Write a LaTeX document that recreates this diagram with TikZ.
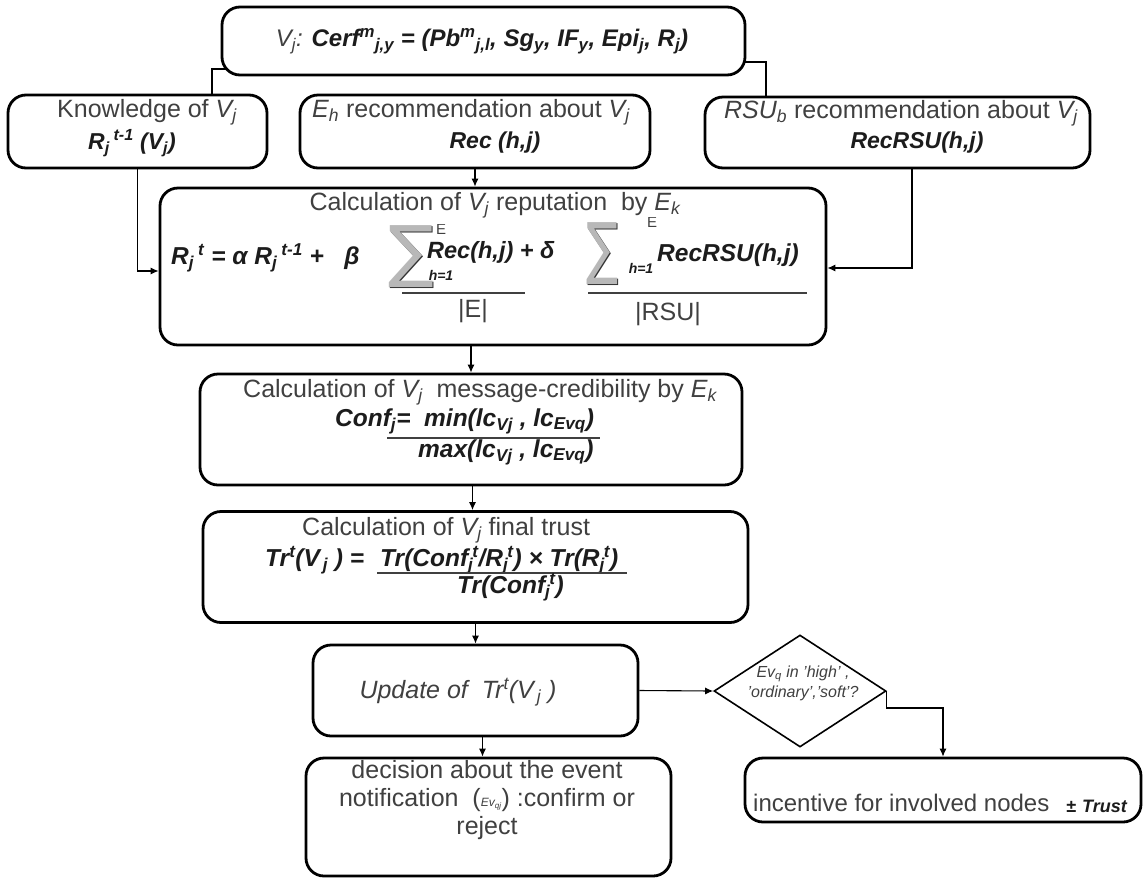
\documentclass[tikz,border=0pt]{standalone}
\usepackage{fontspec}
\setmainfont{Liberation Sans}
\newfontfamily\sigmafont{DejaVu Sans}
\usetikzlibrary{shapes.geometric,arrows.meta,backgrounds}
\definecolor{ink}{RGB}{64,64,64}
\definecolor{fink}{RGB}{28,28,28}
\newcommand\dn[1]{\textsubscript{#1}}
\newcommand\up[1]{\textsuperscript{#1}}
\begin{document}
\begin{tikzpicture}[x=1pt,y=-1pt,
  box/.style={draw, fill=white, line width=2.8pt, rounded corners=18pt, inner sep=0pt},
  link/.style={line width=1.1pt},
  arr/.style={link,-{Latex[length=8pt,width=7pt]}},
  txt/.style={text=ink, font=\fontsize{25}{28}\selectfont, inner sep=0pt},
  fml/.style={text=fink, font=\fontsize{24.5}{28}\selectfont\bfseries\itshape, inner sep=0pt},
  tiny/.style={text=fink, font=\fontsize{14}{16}\selectfont\bfseries\itshape, inner sep=0pt},
  lim/.style={text=ink, font=\fontsize{15}{16}\selectfont, inner sep=0pt},
  sigshade/.style={text=black!80, font=\sigmafont\fontsize{68}{68}\selectfont, inner sep=0pt},
  sig/.style={text=black!28, font=\sigmafont\fontsize{68}{68}\selectfont, inner sep=0pt},
  fracbar/.style={line width=1.1pt, draw=ink},
]
\useasboundingbox (0,0) rectangle (1147,879);

% ---- boxes ----
\node[box, minimum width=523pt, minimum height=68pt]  (top)  at (483.5,41)  {};
\node[box, minimum width=259pt, minimum height=73pt]  (know) at (137.5,131.5) {};
\node[box, minimum width=350pt, minimum height=73pt]  (rech) at (475,131.5) {};
\node[box, minimum width=385pt, minimum height=71pt]  (rsu)  at (897.5,132.5) {};
\node[box, minimum width=666pt, minimum height=157pt] (rep)  at (493,266.5) {};
\node[box, minimum width=542pt, minimum height=111pt] (cred) at (471,429.5) {};
\node[box, minimum width=545pt, minimum height=111pt] (fin)  at (475.5,567) {};
\node[box, minimum width=325pt, minimum height=91pt]  (upd)  at (475.5,690.5) {};
\node[box, minimum width=365pt, minimum height=118pt] (dec)  at (488.5,817) {};
\node[box, minimum width=396pt, minimum height=64pt]  (inc)  at (943,790) {};
\node[draw, fill=white, diamond, line width=1.6pt, minimum width=172pt, minimum height=112pt, inner sep=0pt] (dia) at (800,691) {};

% ---- connectors ----
\begin{scope}[on background layer]
\draw[link] ([yshift=-28pt,xshift=8pt]top.west) -| ([xshift=74.5pt]know.north);
\draw[link] ([yshift=-21pt,xshift=-4pt]top.east) -| ([xshift=-131.5pt]rsu.north);
\end{scope}
\draw[arr] (know.south) |- ([yshift=-4.5pt]rep.west);
\draw[arr] (rech.south) -- (rech.south |- rep.north);
\draw[arr] ([xshift=14.5pt]rsu.south) |- ([yshift=-1.5pt]rep.east);
\draw[arr] (rep.south -| cred.north) -- (cred.north);
\draw[arr] ([xshift=1.5pt]cred.south) -- ([xshift=1.5pt]cred.south |- fin.north);
\draw[arr] (fin.south) -- (fin.south |- upd.north);
\draw[arr] ([xshift=7pt]upd.south) -- ([xshift=7pt]upd.south |- dec.north);
\draw[arr] (upd.east) -- (dia.west);
\draw[arr] (dia.east) -- ([yshift=-17pt]dia.east) -| (inc.north);

% ---- texts ----
\node[fml, font=\fontsize{24}{28}\selectfont\bfseries\itshape] (ttop) at (482,41) {{\mdseries\color{ink}V\dn{j}:} Cerf\up{m}\dn{j,y} = (Pb\up{m}\dn{j,l}, Sg\dn{y}, IF\dn{y}, Epi\dn{j}, R\dn{j})};

\node[txt] (k1) at (147,112) {Knowledge of \textit{V\dn{j}}};
\node[fml, font=\fontsize{23}{27}\selectfont\bfseries\itshape] (k2) at (132,143) {R\dn{j}\,\up{t-1} (V\dn{j})};

\node[txt] (e1) at (471,112) {\textit{E\dn{h}} recommendation about \textit{V\dn{j}}};
\node[fml, font=\fontsize{23}{27}\selectfont\bfseries\itshape] (e2) at (495,143) {Rec (h,j)};

\node[txt] (r1) at (901,113) {\textit{RSU\dn{b}} recommendation about \textit{V\dn{j}}};
\node[fml, font=\fontsize{23}{27}\selectfont\bfseries\itshape] (r2) at (917,143) {RecRSU(h,j)};

% reputation formula
\node[txt] (p1) at (495,205) {Calculation of \textit{V\dn{j}} reputation \ by \textit{E\dn{k}}};
\node[fml, anchor=west] (p2) at (171,258) {R\dn{j}\,\up{t} = α R\dn{j}\,\up{t-1} + \ \ β};
\node[sigshade] (s1s) at (412.2,257.7) {∑};
\node[sig] (s1) at (411,256.5) {∑};
\begin{scope}
\clip (430,224) rectangle (460,240);
\node[lim] (s1top) at (441,229) {E};
\end{scope}
\node[fml, font=\fontsize{23.5}{27}\selectfont\bfseries\itshape, anchor=west] (p3) at (427,252) {Rec(h,j) + δ};
\node[tiny] (s1b) at (441,275) {h=1};
\draw[fracbar] (402,293) -- (525,293);
\node[txt] (p4) at (473,311) {|E|};
\node[sigshade, xscale=0.7] (s2s) at (603.7,254.7) {∑};
\node[sig, xscale=0.7] (s2) at (602.5,253.5) {∑};
\begin{scope}
\clip (640,217) rectangle (665,235);
\node[lim] (s2top) at (652,222) {E};
\end{scope}
\node[tiny] (s2b) at (641,268) {h=1};
\node[fml, anchor=west] (p5) at (657,255) {RecRSU(h,j)};
\draw[fracbar] (588,293) -- (807,293);
\node[txt] (p6) at (668,314) {|RSU|};

% credibility formula
\node[txt, anchor=west] (c1) at (243,392) {Calculation of \textit{V\dn{j}} \ message-credibility by \textit{E\dn{k}}};
\node[fml, anchor=west] (c2) at (335,421) {Conf\dn{j}= \ min(lc\dn{Vj} , lc\dn{Evq})};
\draw[fracbar] (387,438) -- (600,438);
\node[fml, anchor=west] (c3) at (418,452) {max(lc\dn{Vj} , lc\dn{Evq})};

% final trust formula
\node[txt, anchor=west] (f1) at (302,530) {Calculation of \textit{V\dn{j}} final trust};
\node[fml, anchor=west] (f2) at (265,560) {Tr\up{t}(V\dn{\,j} ) =};
\node[fml, anchor=west] (f3) at (380,560) {Tr(Conf\dn{j}\kern-1pt\up{t}/R\dn{j}\kern-1pt\up{t}) × Tr(R\dn{j}\kern-1pt\up{t})};
\draw[fracbar] (377,573) -- (627,573);
\node[fml, anchor=west] (f4) at (457,587) {Tr(Conf\dn{j}\kern-1pt\up{t})};

\node[txt, font=\fontsize{25}{28}\selectfont\itshape] (u1) at (458,692) {Update of \ Tr\up{t}(V\dn{\,j} )};

\node[txt, align=center] (d1) at (487,800) {decision about the event\\notification \ ({\fontsize{12}{12}\selectfont\itshape Ev\dn{qj}}) :confirm or\\reject};

\node[txt, font=\fontsize{16}{20}\selectfont\itshape, align=center] (q1) at (803,683) {Ev\dn{q} in 'high' ,\\'ordinary','soft'?};

\node[txt, font=\fontsize{24}{30}\selectfont, anchor=west] (i1) at (753,803) {incentive for involved nodes};
\node[fml, font=\fontsize{18}{20}\selectfont\bfseries\itshape, anchor=west] (i2) at (1066,806) {±\,\,Trust};
\end{tikzpicture}
\end{document}
